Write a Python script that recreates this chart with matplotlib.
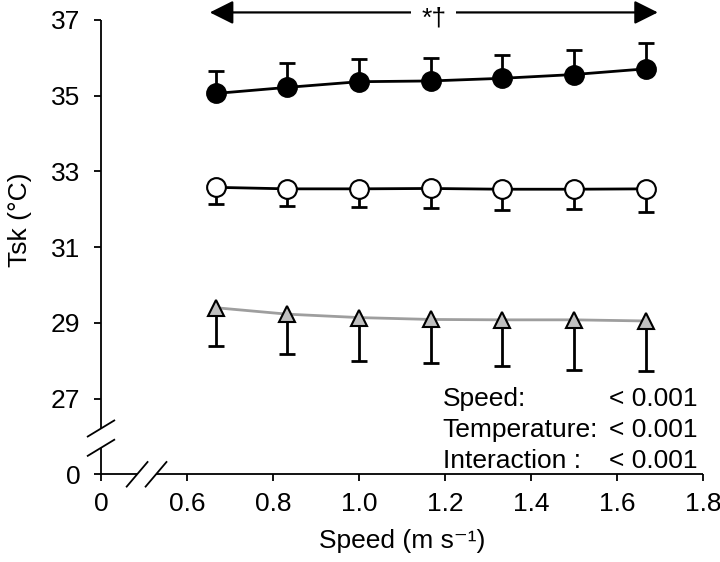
import numpy as np
import matplotlib
matplotlib.use("Agg")
import matplotlib.pyplot as plt

plt.rcParams['font.family'] = ['Liberation Sans', 'DejaVu Sans']

# ---- data ----
speed = [0.667, 0.833, 1.0, 1.167, 1.333, 1.5, 1.667]
hot_mean = [35.06, 35.22, 35.37, 35.39, 35.46, 35.56, 35.71]
hot_err = [0.60, 0.64, 0.59, 0.60, 0.61, 0.65, 0.67]
mid_mean = [32.58, 32.54, 32.54, 32.55, 32.53, 32.53, 32.54]
mid_err = [0.45, 0.44, 0.47, 0.51, 0.56, 0.53, 0.60]
cold_mean = [29.40, 29.23, 29.14, 29.09, 29.08, 29.08, 29.05]
cold_err = [1.00, 1.05, 1.14, 1.14, 1.21, 1.33, 1.32]

y_ticks = [25, 27, 29, 31, 33, 35, 37]
y_ticklabels = ['0', '27', '29', '31', '33', '35', '37']
x_ticks = [0.4, 0.6, 0.8, 1.0, 1.2, 1.4, 1.6, 1.8]
x_ticklabels = ['0', '0.6', '0.8', '1.0', '1.2', '1.4', '1.6', '1.8']

stat_names = ['Speed:', 'Temperature:', 'Interaction :']
stat_values = ['< 0.001', '< 0.001', '< 0.001']

FS = 19

# ---- figure ----
fig = plt.figure(figsize=(7.2, 5.62), dpi=100)
ax = fig.add_axes([101/720, 1-474.3/562, 602/720, 454.3/562])
ax.set_xlim(0.4, 1.8)
ax.set_ylim(25, 37)

x = np.array(speed)
lw = 2.0
cap_ms = 11

def errs(mean, err, up, color='black'):
    mean = np.array(mean); err = np.array(err)
    end = mean + err if up else mean - err
    ax.vlines(x, mean, end, colors=color, lw=lw, zorder=2)
    ax.plot(x, end, ls='none', marker='_', ms=cap_ms, mew=lw, color=color, zorder=2)

errs(hot_mean, hot_err, True)
errs(mid_mean, mid_err, False)
errs(cold_mean, cold_err, False)

ax.plot(x, hot_mean, '-o', color='black', lw=lw, ms=13.5, mfc='black', mec='black', mew=1.5, zorder=3)
ax.plot(x, mid_mean, '-o', color='black', lw=lw, ms=13.5, mfc='white', mec='black', mew=1.5, zorder=3)
ax.plot(x, cold_mean, '-', color='#9e9e9e', lw=lw, zorder=3)
ax.plot(x, cold_mean, ls='none', marker='^', ms=12, mfc='#bfbfbf', mec='black', mew=1.5, zorder=4)

# axes lines with breaks
for s in ax.spines.values():
    s.set_visible(False)
spine_kw = dict(color='black', lw=1.3, clip_on=False, zorder=5, solid_capstyle='butt')
ax.plot([0.4, 0.4], [25, 25.70], **spine_kw)
ax.plot([0.4, 0.4], [26.21, 37], **spine_kw)
ax.plot([0.4, 0.484], [25, 25], **spine_kw)
ax.plot([0.528, 1.8], [25, 25], **spine_kw)
# break marks
for yc in (26.21, 25.70):
    ax.plot([0.4 - 0.0326, 0.4 + 0.0326], [yc - 0.2245, yc + 0.2245], **spine_kw)
for xc in (0.484, 0.528):
    ax.plot([xc - 0.0256, xc + 0.0256], [25 - 0.343, 25 + 0.343], **spine_kw)

ax.set_xticks(x_ticks)
ax.set_xticklabels(x_ticklabels)
ax.set_yticks(y_ticks)
ax.set_yticklabels(y_ticklabels)
ax.tick_params(axis='both', direction='out', length=5, width=1.3, labelsize=FS, color='black')
ax.tick_params(axis='x', pad=8)
ax.tick_params(axis='y', pad=10)

ax.set_xlabel('Speed (m s⁻¹)', fontsize=FS)
ax.xaxis.set_label_coords(0.5, -0.12)
ax.set_ylabel('Tsk (°C)', fontsize=FS)
ax.yaxis.set_label_coords(-0.115, 0.56)

# significance arrow
ax.annotate('', xy=(1.695, 37.2), xytext=(0.653, 37.2),
            arrowprops=dict(arrowstyle='<|-|>,head_length=0.8,head_width=0.4',
                            mutation_scale=18, color='black', lw=1.6,
                            shrinkA=0, shrinkB=0),
            annotation_clip=False)
ax.text(1.174, 37.05, '*†', fontsize=FS, ha='center', va='center',
        bbox=dict(facecolor='white', edgecolor='none', pad=7), zorder=6, clip_on=False)

# stats text
for i, (n, v) in enumerate(zip(stat_names, stat_values)):
    yy = 27.0 - i * 0.82
    ax.text(1.195, yy, n, fontsize=FS, ha='left', va='center')
    ax.text(1.788, yy, v, fontsize=FS, ha='right', va='center')

fig.savefig('out.png', dpi=100, facecolor='white')
